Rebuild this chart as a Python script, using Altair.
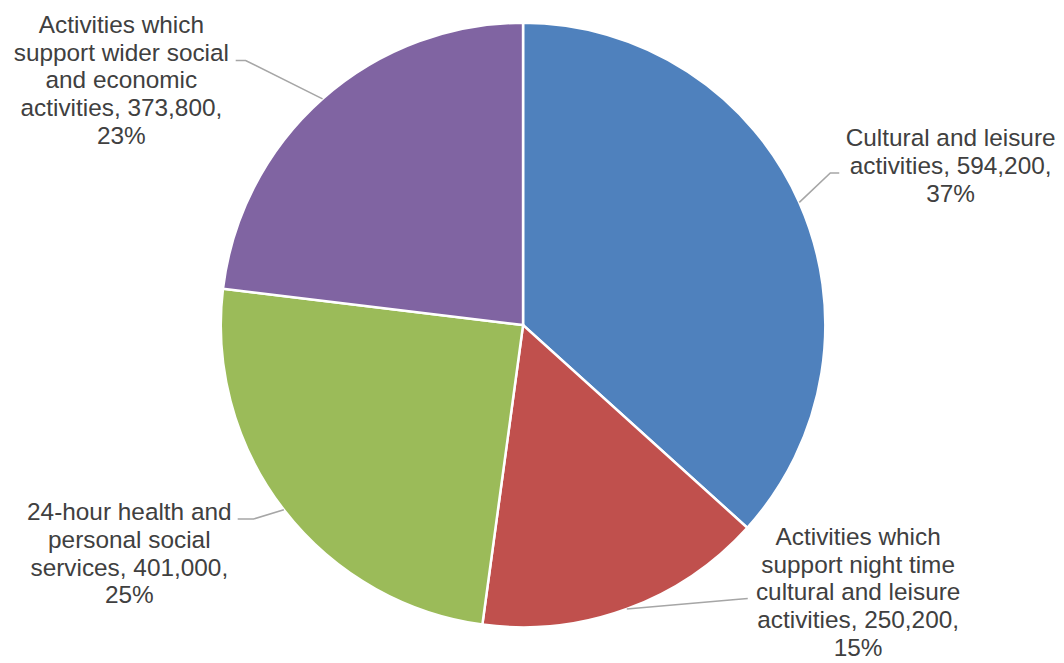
import math
import altair as alt
import pandas as pd

# ---- data ----
categories = [
    "Cultural and leisure activities",
    "Activities which support night time cultural and leisure activities",
    "24-hour health and personal social services",
    "Activities which support wider social and economic activities",
]
values = [594200, 250200, 401000, 373800]
label_lines = [
    ["Cultural and leisure", "activities, {v},", "{p}%"],
    ["Activities which", "support night time", "cultural and leisure", "activities, {v},", "{p}%"],
    ["24-hour health and", "personal social", "services, {v},", "{p}%"],
    ["Activities which", "support wider social", "and economic", "activities, {v},", "{p}%"],
]
colors = ["#4F81BD", "#C0504D", "#9BBB59", "#8064A2"]

# ---- layout (pixel offsets from pie centre, y downward) ----
W, H, R = 1036, 634, 304
label_anchor = [(430, -180), (337, 221), (-396, 196), (-404, -294)]
elbows = [(309, -153), (214, 276), (-271, 195), (-279, -266)]
line_ends = [(318, -153), (226, 275), (-287, 195), (-289, -266)]

total = sum(values)
pie_df = pd.DataFrame({"category": categories, "value": values, "idx": range(len(values))})

texts, lines = [], []
cum = 0
for i, v in enumerate(values):
    mid = (cum + v / 2) / total * 2 * math.pi
    cum += v
    p = round(v / total * 100)
    txt = "\n".join(s.format(v=f"{v:,}", p=p) for s in label_lines[i])
    texts.append({"x": label_anchor[i][0], "y": label_anchor[i][1], "label": txt})
    sx, sy = R * math.sin(mid), -R * math.cos(mid)
    for o, (x, y) in enumerate([(sx, sy), elbows[i], line_ends[i]]):
        lines.append({"key": i, "o": o, "x": x, "y": y})

text_df = pd.DataFrame(texts)
line_df = pd.DataFrame(lines)

xs = alt.Scale(domain=[-W / 2, W / 2])
ys = alt.Scale(domain=[-H / 2, H / 2], reverse=True)

pie = alt.Chart(pie_df).mark_arc(radius=R, stroke="white", strokeWidth=2.5).encode(
    theta=alt.Theta("value:Q", stack=True),
    color=alt.Color("category:N", scale=alt.Scale(domain=categories, range=colors), legend=None),
    order=alt.Order("idx:Q"),
)

leader = alt.Chart(line_df).mark_line(color="#A6A6A6", strokeWidth=1.6).encode(
    x=alt.X("x:Q", scale=xs, axis=None),
    y=alt.Y("y:Q", scale=ys, axis=None),
    detail="key:N",
    order="o:Q",
)

labels = alt.Chart(text_df).mark_text(
    align="center", baseline="alphabetic", lineBreak="\n",
    fontSize=24.5, lineHeight=28, font="Liberation Sans", color="#404040",
).encode(
    x=alt.X("x:Q", scale=xs, axis=None),
    y=alt.Y("y:Q", scale=ys, axis=None),
    text="label:N",
)

chart = alt.layer(pie, leader, labels).properties(
    width=W, height=H, padding=0
).configure_view(stroke=None)

chart.save("out.html", embed_options={"renderer": "svg", "actions": False})
